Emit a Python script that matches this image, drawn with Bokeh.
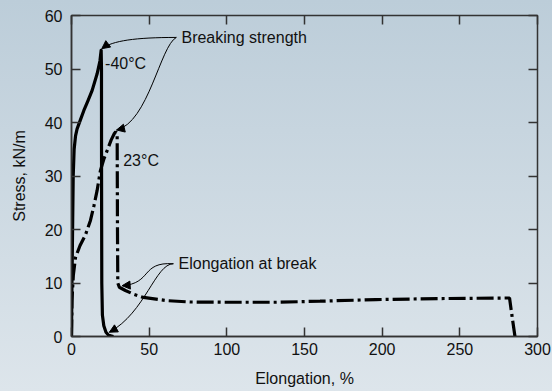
from bokeh.plotting import figure
from bokeh.models import (LinearAxis, Range1d, Arrow, NormalHead, Label,
                          CustomJSTickFormatter, FixedTicker)
from bokeh.embed import file_html
from bokeh.resources import INLINE

# ---- data ----
x_minus40 = [0, 0.3, 0.7, 1.1, 1.7, 2.6, 3.6, 5.5, 7.9, 10.5, 13.3, 16.5, 18.3, 19.1,
             19.3, 19.35, 19.5, 19.9, 20.8, 22.2, 24, 27]
y_minus40 = [0, 10, 20, 30, 35, 37.5, 38.8, 40.3, 42.2, 44, 46, 49.1, 51.5, 53.5,
             50, 30, 10, 4, 2, 0.8, 0.2, 0]

x_23 = [0, 0.3, 1.2, 2.6, 5.5, 9, 12.2, 14.5, 16.5, 18.6, 21, 23, 25.5, 27.5,
        28.5, 29.4, 29.6, 29.8, 30.8, 34.7, 40, 46.3, 61.5, 76.5, 100, 132, 160,
        196, 240, 282, 283.5, 285.5]
y_23 = [0, 6.7, 11.5, 14.8, 17, 19, 21.7, 24.5, 27.3, 31, 33.3, 34.8, 36.7, 37.9,
        38.3, 37.5, 20, 10, 9.2, 8.6, 7.9, 7.3, 6.7, 6.45, 6.4, 6.4, 6.6,
        6.9, 7.1, 7.2, 4, 0]

x_ticks = [0, 50, 100, 150, 200, 250, 300]
y_ticks = [0, 10, 20, 30, 40, 50, 60]

curve_labels = ["-40°C", "23°C"]
label_x = [21.6, 33.3]
label_y = [51.0, 32.9]

# annotation curves (cubic bezier control points, data units)
bs_text = "Breaking strength"
bs_pos = (70.8, 55.8)
bs_x0 = [67.5, 67.5]; bs_y0 = [55.9, 55.9]
bs_cx0 = [41.2, 57.2]; bs_cy0 = [55.9, 54.4]
bs_cx1 = [26.4, 49.5]; bs_cy1 = [55.3, 40.0]
bs_x1 = [19.5, 29.0]; bs_y1 = [53.8, 38.6]

eb_text = "Elongation at break"
eb_pos = (68.9, 13.6)
eb_x0 = [65.6, 65.6]; eb_y0 = [13.6, 13.6]
eb_cx0 = [44.4, 54.0]; eb_cy0 = [14.0, 13.6]
eb_cx1 = [52.1, 47.6]; eb_cy1 = [9.9, 4.5]
eb_x1 = [32.6, 24.4]; eb_y1 = [9.5, 0.8]

FONT = "Liberation Sans"
INK = "#111111"
FS = "16px"

p = figure(width=552, height=391, x_range=Range1d(0, 300), y_range=Range1d(0, 60),
           output_backend="svg", toolbar_location=None,
           min_border_left=71, min_border_right=15, min_border_top=15, min_border_bottom=55)
p.border_fill_color = None
p.background_fill_color = None
p.grid.visible = False
p.outline_line_color = "#333333"
p.outline_line_width = 1.5

for ax in (p.xaxis[0], p.yaxis[0]):
    ax.axis_line_color = "#333333"
    ax.axis_line_width = 1.5
    ax.major_tick_in = 9
    ax.major_tick_out = 0
    ax.major_tick_line_color = "#333333"
    ax.major_tick_line_width = 1.5
    ax.minor_tick_line_color = None
    ax.major_label_text_font = FONT
    ax.major_label_text_font_size = FS
    ax.major_label_text_color = INK
    ax.axis_label_text_font = FONT
    ax.axis_label_text_font_size = FS
    ax.axis_label_text_font_style = "normal"
    ax.axis_label_text_color = INK

p.xaxis[0].ticker = FixedTicker(ticks=x_ticks)
p.yaxis[0].ticker = FixedTicker(ticks=y_ticks)
p.xaxis[0].axis_label = "Elongation, %"
p.yaxis[0].axis_label = "Stress, kN/m"
p.xaxis[0].major_label_standoff = 6
p.xaxis[0].axis_label_standoff = 12
p.yaxis[0].major_label_standoff = 9
p.yaxis[0].axis_label_standoff = 14

blank = CustomJSTickFormatter(code="return ''")
top = LinearAxis(ticker=FixedTicker(ticks=x_ticks), formatter=blank)
right = LinearAxis(ticker=FixedTicker(ticks=y_ticks), formatter=blank)
for ax in (top, right):
    ax.axis_line_color = None
    ax.major_tick_in = 9
    ax.major_tick_out = 0
    ax.major_tick_line_color = "#333333"
    ax.major_tick_line_width = 1.5
    ax.minor_tick_line_color = None
    ax.major_label_standoff = 0
    ax.major_label_text_font_size = "1px"
p.add_layout(top, "above")
p.add_layout(right, "right")

# curves
p.line(x_minus40, y_minus40, line_color="black", line_width=3.2, line_join="round")
p.line(x_23, y_23, line_color="black", line_width=3.2, line_dash="17 4 3 4")

# curve labels
for t, lx, ly in zip(curve_labels, label_x, label_y):
    p.add_layout(Label(x=lx, y=ly, text=t, text_font=FONT, text_font_size=FS,
                       text_color=INK, text_baseline="middle"))

# annotation texts
p.add_layout(Label(x=bs_pos[0], y=bs_pos[1], text=bs_text, text_font=FONT,
                   text_font_size=FS, text_color=INK, text_baseline="middle"))
p.add_layout(Label(x=eb_pos[0], y=eb_pos[1], text=eb_text, text_font=FONT,
                   text_font_size=FS, text_color=INK, text_baseline="middle"))

# annotation curves + arrowheads
for xs0, ys0, cx0, cy0, cx1, cy1, xs1, ys1 in [
        (bs_x0, bs_y0, bs_cx0, bs_cy0, bs_cx1, bs_cy1, bs_x1, bs_y1),
        (eb_x0, eb_y0, eb_cx0, eb_cy0, eb_cx1, eb_cy1, eb_x1, eb_y1)]:
    p.bezier(x0=xs0, y0=ys0, x1=xs1, y1=ys1, cx0=cx0, cy0=cy0, cx1=cx1, cy1=cy1,
             line_color="black", line_width=1)
    for i in range(len(xs0)):
        dx = xs1[i] - cx1[i]
        dy = ys1[i] - cy1[i]
        sx = xs1[i] - dx * 0.05
        sy = ys1[i] - dy * 0.05
        p.add_layout(Arrow(end=NormalHead(size=8, fill_color="black", line_color="black",
                                          line_width=1),
                           x_start=sx, y_start=sy, x_end=xs1[i], y_end=ys1[i],
                           line_alpha=0))

html = file_html(p, INLINE)
style = ("<style>html{background:linear-gradient(to bottom,#bccdd9 0px,#dde5eb 391px) "
         "no-repeat;background-color:#dde5eb}</style>")
html = html.replace("</head>", style + "</head>", 1)
open("out.html", "w").write(html)
